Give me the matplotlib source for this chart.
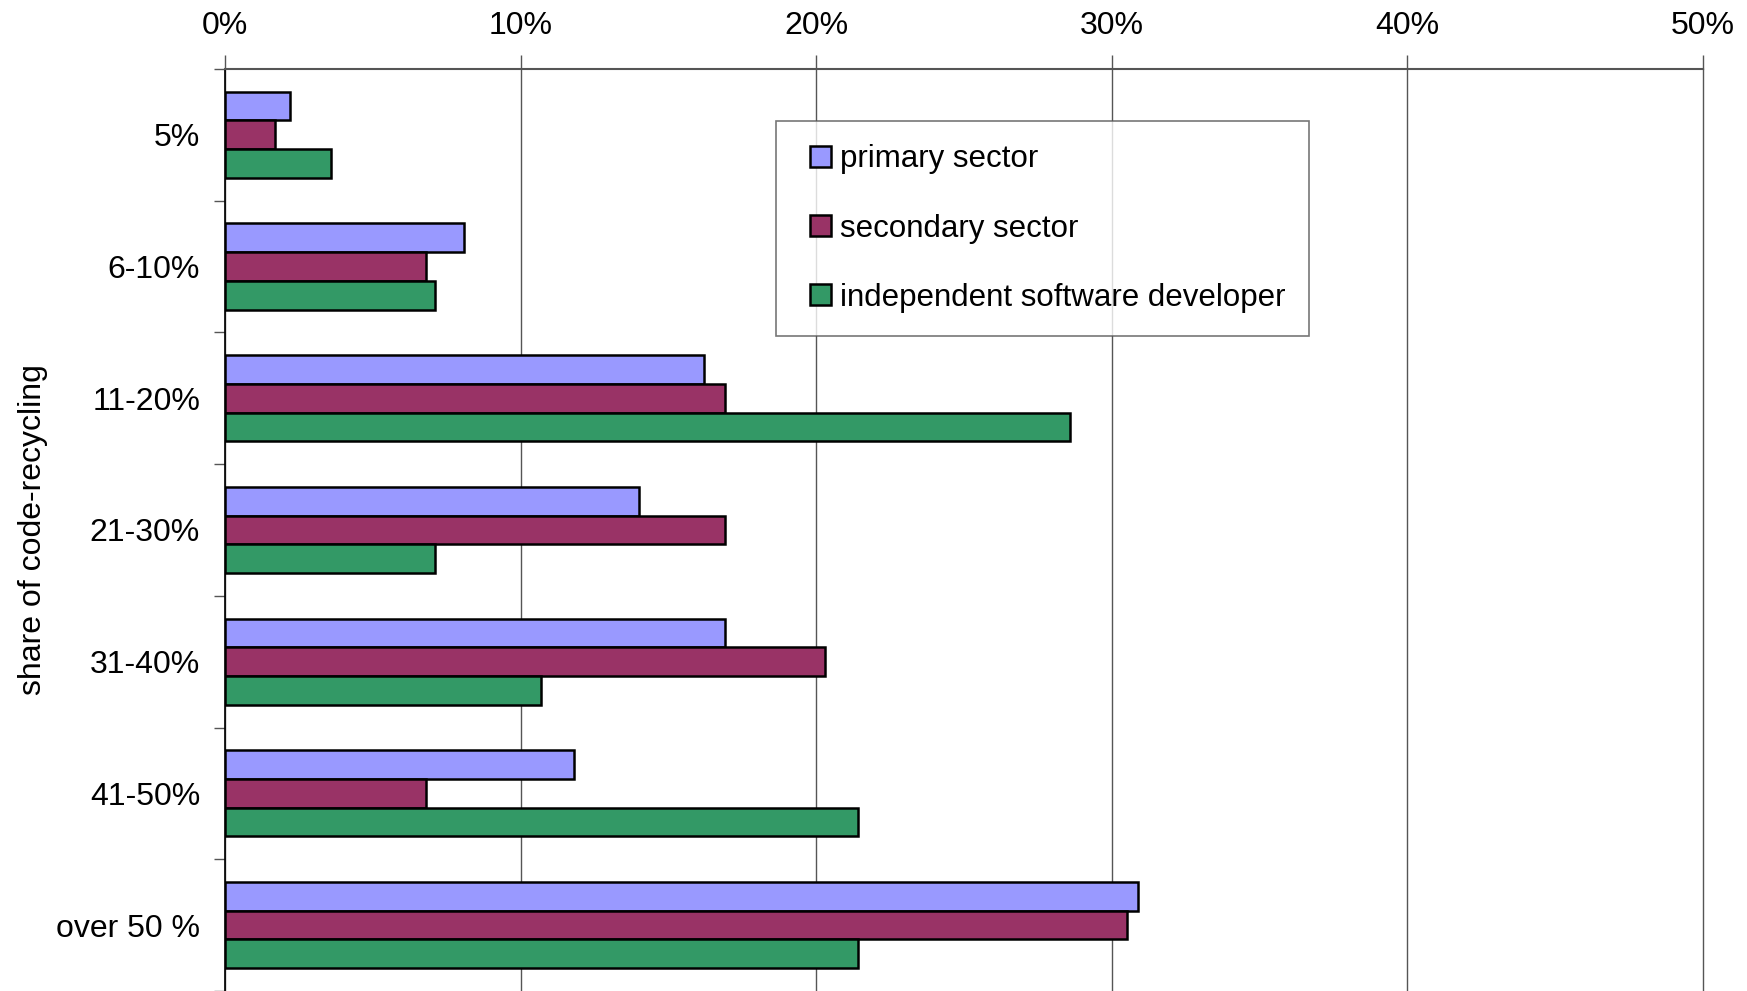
import numpy as np
import matplotlib
matplotlib.use("Agg")
import matplotlib.pyplot as plt
from matplotlib.patches import Rectangle
from matplotlib.legend_handler import HandlerPatch

plt.rcParams['font.family'] = ['Liberation Sans', 'DejaVu Sans']

categories = ['5%', '6-10%', '11-20%', '21-30%', '31-40%', '41-50%', 'over 50 %']
primary = [2.2, 8.1, 16.2, 14.0, 16.9, 11.8, 30.9]
secondary = [1.7, 6.8, 16.9, 16.9, 20.3, 6.8, 30.5]
independent = [3.6, 7.1, 28.6, 7.1, 10.7, 21.4, 21.4]
series_names = ['primary sector', 'secondary sector', 'independent software developer']
colors = ['#9999FF', '#993366', '#339966']

FS = 23

fig = plt.figure(figsize=(17.47, 9.91), dpi=100)
ax = fig.add_axes([0.1288, 0.0, 0.846, 0.9304])

y = np.arange(len(categories))
h = 0.218
for i, (vals, name, col) in enumerate(zip([primary, secondary, independent], series_names, colors)):
    ax.barh(y + (i - 1) * h, vals, height=h, color=col, edgecolor='black',
            linewidth=1.8, zorder=3)

ax.set_xlim(0, 50)
ax.set_ylim(len(categories) - 0.5, -0.5)

# x axis on top, gridlines
ax.xaxis.tick_top()
ax.set_xticks(np.arange(0, 51, 10))
ax.set_xticklabels([f'{v}%' for v in range(0, 51, 10)])
ax.tick_params(axis='x', length=10, width=1, color='#555555', pad=10, labelsize=FS)
ax.grid(axis='x', color='#555555', linewidth=1, zorder=0)
for gl in ax.get_xgridlines():
    gl.set_clip_on(False)

# y ticks at category boundaries, labels at centres
ax.set_yticks(np.arange(len(categories) + 1) - 0.5)
ax.set_yticklabels([])
ax.set_yticks(y, minor=True)
ax.set_yticklabels(categories, minor=True)
ax.tick_params(axis='y', which='major', length=8, width=1, color='#555555')
ax.tick_params(axis='y', which='minor', length=0, pad=18, labelsize=FS)

ax.spines['right'].set_visible(False)
ax.spines['bottom'].set_visible(False)
ax.spines['top'].set_color('#555555')
ax.spines['top'].set_linewidth(1.5)
ax.spines['left'].set_color('black')
ax.spines['left'].set_linewidth(1.2)

ax.set_ylabel('share of code-recycling', fontsize=FS)
ax.yaxis.set_label_coords(-0.12, 0.5)


def square_patch(legend, orig_handle, xdescent, ydescent, width, height, fontsize):
    side = height
    return Rectangle((width - side - xdescent, -ydescent), side, side)


handles = [Rectangle((0, 0), 1, 1, facecolor=c, edgecolor='black', linewidth=1.8)
           for c in colors]
leg = ax.legend(handles, series_names, loc='upper left',
                bbox_to_anchor=(776 / 1747, 1 - 121 / 991),
                bbox_transform=fig.transFigure, fontsize=22.5, frameon=True,
                fancybox=False, handlelength=1.0, handleheight=0.62,
                handletextpad=0.3, labelspacing=1.25, borderpad=0.75,
                borderaxespad=0,
                handler_map={Rectangle: HandlerPatch(patch_func=square_patch)})
leg.get_frame().set_edgecolor('#555555')
leg.get_frame().set_linewidth(1.2)

fig.savefig('out.png', dpi=100)
